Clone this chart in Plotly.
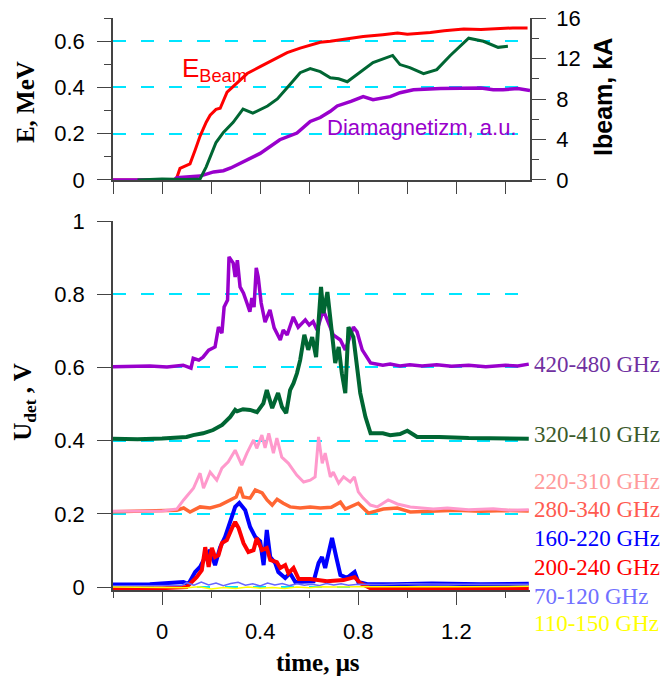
import plotly.graph_objects as go

# ---- data: top panel (time in us) ----
ebeam_t = [-0.2, 0.0, 0.04, 0.06, 0.073, 0.1, 0.114, 0.135, 0.155, 0.18, 0.196, 0.22, 0.237, 0.265, 0.305, 0.347,
           0.4, 0.453, 0.51, 0.563, 0.645, 0.686, 0.75, 0.82, 0.9, 0.96, 1.0, 1.094, 1.15, 1.23, 1.3, 1.367, 1.43, 1.49]
ebeam = [0.0, 0.0, -0.004, 0.01, 0.05, 0.062, 0.07, 0.13, 0.19, 0.25, 0.28, 0.305, 0.31, 0.38, 0.42, 0.46,
         0.49, 0.52, 0.55, 0.57, 0.595, 0.6, 0.61, 0.62, 0.628, 0.635, 0.63, 0.637, 0.645, 0.652, 0.65, 0.655, 0.657, 0.657]

ibeam_t = [-0.1, 0.0, 0.1, 0.155, 0.18, 0.22, 0.25, 0.29, 0.33, 0.37, 0.43, 0.47, 0.51, 0.563, 0.604, 0.645,
           0.686, 0.72, 0.755, 0.795, 0.86, 0.94, 0.97, 1.01, 1.066, 1.12, 1.175, 1.25, 1.31, 1.37, 1.41]
ibeam = [0.0, 0.1, 0.05, 0.1, 1.3, 3.7, 4.7, 5.7, 7.0, 6.6, 7.3, 8.0, 9.1, 10.6, 11.0, 10.7,
         10.1, 10.0, 9.7, 10.4, 11.6, 12.3, 11.4, 11.1, 10.5, 10.9, 12.3, 14.0, 13.7, 13.1, 13.2]

dia_t = [-0.2, -0.01, 0.02, 0.04, 0.06, 0.1, 0.155, 0.21, 0.25, 0.28, 0.33, 0.4, 0.48, 0.55, 0.604, 0.645,
         0.686, 0.714, 0.77, 0.82, 0.86, 0.93, 0.97, 1.025, 1.135, 1.2, 1.3, 1.35, 1.39, 1.45, 1.5]
dia = [0.0, 0.0, -0.008, -0.015, 0.01, 0.012, 0.017, 0.035, 0.04, 0.052, 0.08, 0.115, 0.174, 0.203, 0.253, 0.27,
       0.297, 0.32, 0.34, 0.36, 0.347, 0.36, 0.377, 0.39, 0.395, 0.396, 0.397, 0.39, 0.39, 0.395, 0.387]

# ---- data: detector signals (V) ----
p420_t = [-0.2, -0.12, -0.05, 0.02, 0.05, 0.086, 0.118, 0.127, 0.15, 0.167, 0.19, 0.216, 0.23, 0.244, 0.253, 0.267,
          0.273, 0.29, 0.298, 0.307, 0.318, 0.332, 0.346, 0.358, 0.366, 0.375, 0.384, 0.392, 0.404, 0.42, 0.44,
          0.457, 0.482, 0.494, 0.51, 0.535, 0.555, 0.584, 0.6, 0.616, 0.632, 0.657, 0.698, 0.727, 0.747, 0.78,
          0.795, 0.816, 0.85, 0.9, 0.93, 0.97, 1.01, 1.06, 1.12, 1.18, 1.25, 1.32, 1.4, 1.45, 1.495]
p420 = [0.602, 0.603, 0.604, 0.601, 0.603, 0.606, 0.598, 0.625, 0.62, 0.628, 0.647, 0.656, 0.71, 0.694, 0.765, 0.784,
        0.902, 0.885, 0.847, 0.893, 0.82, 0.803, 0.776, 0.752, 0.79, 0.765, 0.872, 0.847, 0.776, 0.724, 0.757,
        0.708, 0.675, 0.702, 0.689, 0.738, 0.71, 0.73, 0.716, 0.725, 0.702, 0.757, 0.689, 0.675, 0.648, 0.71,
        0.697, 0.648, 0.612, 0.606, 0.609, 0.604, 0.607, 0.604, 0.607, 0.603, 0.606, 0.602, 0.606, 0.604, 0.609]

g320_t = [-0.2, -0.1, 0.0, 0.073, 0.1, 0.127, 0.167, 0.208, 0.245, 0.278, 0.298, 0.306, 0.33, 0.359, 0.387, 0.413,
          0.427, 0.449, 0.473, 0.489, 0.506, 0.522, 0.536, 0.55, 0.563, 0.58, 0.596, 0.612, 0.628, 0.648, 0.658,
          0.674, 0.692, 0.706, 0.72, 0.733, 0.747, 0.76, 0.78, 0.795, 0.808, 0.829, 0.85, 0.9, 0.93, 0.97, 1.0,
          1.04, 1.13, 1.25, 1.35, 1.495]
g320 = [0.405, 0.404, 0.406, 0.407, 0.41, 0.415, 0.42, 0.429, 0.443, 0.465, 0.484, 0.48, 0.486, 0.484, 0.478, 0.502,
        0.538, 0.489, 0.53, 0.492, 0.475, 0.538, 0.557, 0.584, 0.62, 0.689, 0.648, 0.683, 0.628, 0.82, 0.748,
        0.806, 0.702, 0.612, 0.656, 0.584, 0.53, 0.71, 0.683, 0.601, 0.53, 0.465, 0.42, 0.42, 0.415, 0.418, 0.427,
        0.41, 0.41, 0.407, 0.406, 0.405]

k220_t = [-0.2, -0.1, -0.05, 0.0, 0.06, 0.088, 0.128, 0.155, 0.169, 0.196, 0.223, 0.244, 0.27, 0.298, 0.325, 0.346,
          0.373, 0.386, 0.407, 0.42, 0.435, 0.454, 0.468, 0.488, 0.515, 0.549, 0.577, 0.604, 0.624, 0.638, 0.653,
          0.665, 0.686, 0.698, 0.72, 0.74, 0.767, 0.784, 0.8, 0.82, 0.849, 0.877, 0.922, 0.959, 1.012, 1.06,
          1.106, 1.163, 1.25, 1.35, 1.42, 1.495]
k220 = [0.207, 0.207, 0.208, 0.208, 0.213, 0.238, 0.27, 0.311, 0.27, 0.314, 0.292, 0.325, 0.342, 0.374, 0.333, 0.366,
        0.402, 0.379, 0.415, 0.38, 0.42, 0.366, 0.407, 0.355, 0.338, 0.306, 0.287, 0.292, 0.301, 0.41, 0.338,
        0.366, 0.301, 0.314, 0.284, 0.301, 0.287, 0.301, 0.26, 0.243, 0.224, 0.219, 0.238, 0.227, 0.219, 0.216,
        0.213, 0.216, 0.211, 0.214, 0.21, 0.211]

o280_t = [-0.2, -0.1, 0.0, 0.06, 0.088, 0.114, 0.155, 0.196, 0.237, 0.278, 0.302, 0.318, 0.331, 0.359, 0.38, 0.408,
          0.428, 0.449, 0.469, 0.494, 0.522, 0.563, 0.604, 0.645, 0.69, 0.727, 0.747, 0.8, 0.841, 0.902, 0.959,
          1.012, 1.106, 1.2, 1.3, 1.4, 1.495]
o280 = [0.206, 0.207, 0.208, 0.21, 0.216, 0.205, 0.219, 0.216, 0.224, 0.238, 0.246, 0.273, 0.246, 0.243, 0.265, 0.257,
        0.238, 0.224, 0.24, 0.229, 0.219, 0.216, 0.219, 0.216, 0.218, 0.232, 0.213, 0.229, 0.202, 0.213, 0.216,
        0.205, 0.208, 0.21, 0.207, 0.209, 0.208]

b160_t = [-0.2, -0.05, 0.087, 0.107, 0.135, 0.155, 0.176, 0.196, 0.216, 0.237, 0.257, 0.278, 0.298, 0.315, 0.339,
          0.359, 0.38, 0.4, 0.414, 0.427, 0.441, 0.461, 0.474, 0.502, 0.522, 0.543, 0.577, 0.618, 0.638, 0.652,
          0.665, 0.693, 0.71, 0.727, 0.754, 0.785, 0.8, 0.837, 0.944, 1.1, 1.3, 1.495]
b160 = [0.007, 0.008, 0.014, 0.008, 0.041, 0.055, 0.082, 0.101, 0.06, 0.109, 0.137, 0.183, 0.219, 0.23, 0.21,
        0.164, 0.137, 0.125, 0.06, 0.156, 0.082, 0.066, 0.041, 0.025, 0.038, 0.014, 0.016, 0.016, 0.066, 0.082,
        0.052, 0.134, 0.082, 0.033, 0.025, 0.041, 0.014, 0.008, 0.008, 0.01, 0.008, 0.009]

r200_t = [-0.2, 0.0, 0.1, 0.141, 0.162, 0.176, 0.19, 0.203, 0.216, 0.23, 0.244, 0.264, 0.285, 0.298, 0.312, 0.332,
          0.352, 0.373, 0.386, 0.407, 0.427, 0.441, 0.468, 0.482, 0.502, 0.515, 0.536, 0.557, 0.604, 0.672, 0.74,
          0.785, 0.808, 0.849, 1.0, 1.2, 1.495]
r200 = [-0.003, -0.003, 0.0, 0.027, 0.046, 0.109, 0.055, 0.107, 0.082, 0.087, 0.12, 0.128, 0.161, 0.178, 0.161, 0.12,
        0.096, 0.101, 0.134, 0.101, 0.107, 0.074, 0.068, 0.052, 0.06, 0.038, 0.052, 0.022, 0.022, 0.016, 0.019,
        0.027, 0.011, -0.003, -0.004, -0.004, -0.004]

l70_t = [-0.2, 0.0, 0.08, 0.1, 0.13, 0.16, 0.19, 0.22, 0.25, 0.28, 0.31, 0.34, 0.37, 0.4, 0.43, 0.46, 0.49, 0.52,
         0.55, 0.58, 0.61, 0.64, 0.67, 0.7, 0.73, 0.76, 0.8, 0.9, 1.0, 1.2, 1.4, 1.495]
l70 = [0.003, 0.003, 0.004, 0.012, 0.005, 0.014, 0.006, 0.011, 0.004, 0.01, 0.013, 0.005, 0.009, 0.003, 0.011,
       0.006, 0.01, 0.004, 0.009, 0.005, 0.008, 0.004, 0.01, 0.006, 0.009, 0.005, 0.008, 0.007, 0.009, 0.008,
       0.009, 0.008]

y110_t = [-0.2, 0.0, 0.1, 0.15, 0.2, 0.25, 0.3, 0.35, 0.4, 0.45, 0.5, 0.55, 0.6, 0.65, 0.7, 0.8, 1.0, 1.2, 1.495]
y110 = [0.0, 0.0, -0.002, 0.001, -0.005, -0.001, -0.004, 0.0, -0.003, -0.001, -0.004, 0.0, -0.002, 0.001, 0.0,
        0.001, 0.002, 0.001, 0.002]

band_labels = ["420-480 GHz", "320-410 GHz", "220-310 GHz", "280-340 GHz",
               "160-220 GHz", "200-240 GHz", "70-120 GHz", "110-150 GHz"]
band_label_colors = ["#7030A0", "#3B5A2B", "#FF9A9A", "#FF5A50", "#0000FF", "#FF0000", "#7070FF", "#FFFF00"]
band_label_y = [0.395, 0.271, 0.189, 0.1416, 0.0909, 0.0402, -0.0105, -0.0594]  # paper coords

AX = "#444444"
GRID = "#00E5FF"
SERIF = "Liberation Serif, Times New Roman, serif"
SANS = "Liberation Sans, Arial, sans-serif"
TICKFONT = dict(family=SANS, size=22, color="black")

fig = go.Figure()

# top panel
fig.add_trace(go.Scatter(x=ebeam_t, y=ebeam, mode="lines", line=dict(color="#FF0000", width=3),
                         xaxis="x", yaxis="y"))
fig.add_trace(go.Scatter(x=ibeam_t, y=ibeam, mode="lines", line=dict(color="#006633", width=3),
                         xaxis="x", yaxis="y2"))
fig.add_trace(go.Scatter(x=dia_t, y=dia, mode="lines", line=dict(color="#9900CC", width=3.5),
                         xaxis="x", yaxis="y"))

# bottom panel
bottom = [
    (p420_t, p420, "#9900CC", 3.5),
    (g320_t, g320, "#006633", 4),
    (o280_t, o280, "#FF6633", 3.5),
    (k220_t, k220, "#FF99CC", 3),
    (b160_t, b160, "#0000FF", 4),
    (r200_t, r200, "#FF0000", 4),
    (l70_t, l70, "#6666FF", 1.5),
    (y110_t, y110, "#FFFF00", 1.5),
]
for tx, ty, col, w in bottom:
    fig.add_trace(go.Scatter(x=tx, y=ty, mode="lines", line=dict(color=col, width=w),
                             xaxis="x2", yaxis="y3"))

annotations = [
    dict(text="<b>E, MeV</b>", x=-0.211, y=0.853, xref="paper", yref="paper", textangle=-90, showarrow=False,
         font=dict(family=SERIF, size=25, color="black"), xanchor="center", yanchor="middle"),
    dict(text="<b>Ibeam, kA</b>", x=1.175, y=0.862, xref="paper", yref="paper", textangle=-90, showarrow=False,
         font=dict(family=SANS, size=25, color="black"), xanchor="center", yanchor="middle"),
    dict(text="<b>U<sub>det</sub> , V</b>", x=-0.211, y=0.329, xref="paper", yref="paper", textangle=-90,
         showarrow=False, font=dict(family=SERIF, size=25, color="black"), xanchor="center", yanchor="middle"),
    dict(text="<b>time, \u03bcs</b>", x=0.492, y=-0.126, xref="paper", yref="paper", showarrow=False,
         font=dict(family=SERIF, size=25, color="black"), xanchor="center", yanchor="middle"),
    dict(text="E<sub>Beam</sub>", x=0.073, y=0.476, xref="x", yref="y", showarrow=False,
         font=dict(family=SANS, size=26, color="#FF0000"), xanchor="left", yanchor="middle"),
    dict(text="Diamagnetizm, a.u.", x=0.664, y=0.225, xref="x", yref="y", showarrow=False,
         font=dict(family=SANS, size=22, color="#9900CC"), xanchor="left", yanchor="middle"),
]
for lab, col, yy in zip(band_labels, band_label_colors, band_label_y):
    annotations.append(dict(text=lab, x=1.005, y=yy, xref="paper", yref="paper", showarrow=False,
                            font=dict(family=SERIF, size=23, color=col),
                            xanchor="left", yanchor="middle"))

fig.update_layout(
    width=662, height=679,
    margin=dict(l=113, r=132, t=18, b=89, autoexpand=False),
    paper_bgcolor="white", plot_bgcolor="white",
    showlegend=False,
    annotations=annotations,
    xaxis=dict(domain=[0, 1], anchor="y", range=[-0.2, 1.5], tick0=0, dtick=0.2, showticklabels=False,
               ticks="outside", ticklen=12, tickcolor=AX, showline=True, linecolor=AX, linewidth=1.5,
               showgrid=False, zeroline=False, automargin=False),
    yaxis=dict(domain=[0.7168, 1], anchor="x", range=[0, 0.7], tick0=0, dtick=0.2, ticks="outside", ticklen=14,
               tickcolor=AX, showline=True, linecolor=AX, linewidth=1.5, tickfont=TICKFONT, ticklabelstandoff=8,
               showgrid=True, gridcolor=GRID, griddash="13px,15px", gridwidth=1.5, zeroline=False, automargin=False,
               minor=dict(dtick=0.1, ticks="outside", ticklen=7, tickcolor=AX, showgrid=False)),
    yaxis2=dict(overlaying="y", side="right", anchor="x", range=[0, 16], tick0=0, dtick=4, ticks="outside",
                ticklen=14, tickcolor=AX, showline=True, linecolor=AX, linewidth=1.5, tickfont=TICKFONT,
                ticklabelstandoff=6, showgrid=False, zeroline=False, automargin=False,
                minor=dict(dtick=2, ticks="outside", ticklen=7, tickcolor=AX, showgrid=False)),
    xaxis2=dict(domain=[0, 1], anchor="y3", range=[-0.2, 1.5], tick0=0, dtick=0.4, ticks="outside", ticklen=13,
                tickcolor=AX, showline=True, linecolor=AX, linewidth=1.5, tickfont=TICKFONT, ticklabelstandoff=8,
                showgrid=False, zeroline=False, automargin=False,
                minor=dict(dtick=0.2, ticks="outside", ticklen=6, tickcolor=AX, showgrid=False)),
    yaxis3=dict(domain=[0, 0.6451], anchor="x2", range=[-0.008, 1.0], tick0=0, dtick=0.2, ticks="outside",
                ticklen=14, tickcolor=AX, showline=True, linecolor=AX, linewidth=1.5, tickfont=TICKFONT,
                ticklabelstandoff=8, showgrid=True, gridcolor=GRID, griddash="13px,15px", gridwidth=1.5,
                zeroline=False, automargin=False),
)

# the page's default 8px body margin would push the figure off the window
fig.write_html("out.html", config={"displayModeBar": False},
               post_script="document.body.style.margin='0px';")
